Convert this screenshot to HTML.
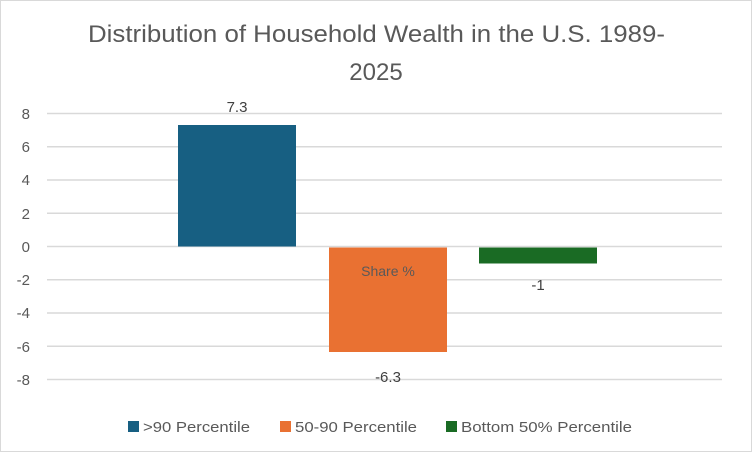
<!DOCTYPE html>
<html><head><style>
body{margin:0;background:#fff;}
svg{display:block;font-family:"Liberation Sans",sans-serif;}
</style></head><body>
<svg width="752" height="452" viewBox="0 0 752 452">
<rect x="0.5" y="0.5" width="751" height="451" fill="#fff" stroke="#d9d9d9"/>
<text x="88" y="42" font-size="24" fill="#595959" textLength="577" lengthAdjust="spacingAndGlyphs">Distribution of Household Wealth in the U.S. 1989-</text>
<text x="376" y="80" text-anchor="middle" font-size="24" fill="#595959">2025</text>
<g stroke="#d9d9d9" stroke-width="1.5">
<line x1="47" x2="722" y1="113.5" y2="113.5"/>
<line x1="47" x2="722" y1="146.7" y2="146.7"/>
<line x1="47" x2="722" y1="180" y2="180"/>
<line x1="47" x2="722" y1="213.2" y2="213.2"/>
<line x1="47" x2="722" y1="246.5" y2="246.5"/>
<line x1="47" x2="722" y1="279.7" y2="279.7"/>
<line x1="47" x2="722" y1="313" y2="313"/>
<line x1="47" x2="722" y1="346.2" y2="346.2"/>
<line x1="47" x2="722" y1="379.5" y2="379.5"/>
</g>
<g font-size="15" fill="#595959" text-anchor="end">
<text x="30" y="119">8</text>
<text x="30" y="152">6</text>
<text x="30" y="185">4</text>
<text x="30" y="219">2</text>
<text x="30" y="252">0</text>
<text x="30" y="285">-2</text>
<text x="30" y="318">-4</text>
<text x="30" y="352">-6</text>
<text x="30" y="385">-8</text>
</g>
<rect x="178" y="125" width="118" height="121.5" fill="#175f82"/>
<rect x="329" y="247.5" width="118" height="104.5" fill="#e97132"/>
<rect x="479" y="247.5" width="118" height="16" fill="#1a6b24"/>
<g font-size="15" fill="#404040" text-anchor="middle">
<text x="237" y="112">7.3</text>
<text x="388" y="382">-6.3</text>
<text x="538" y="290">-1</text>
</g>
<text x="388" y="276" text-anchor="middle" font-size="14" fill="#595959">Share %</text>
<g font-size="15" fill="#595959">
<rect x="128" y="421" width="11" height="11" fill="#175f82"/>
<text x="143" y="432" textLength="107" lengthAdjust="spacingAndGlyphs">&gt;90 Percentile</text>
<rect x="280" y="421" width="11" height="11" fill="#e97132"/>
<text x="295" y="432" textLength="122" lengthAdjust="spacingAndGlyphs">50-90 Percentile</text>
<rect x="446" y="421" width="11" height="11" fill="#1a6b24"/>
<text x="461" y="432" textLength="171" lengthAdjust="spacingAndGlyphs">Bottom 50% Percentile</text>
</g>
</svg>
</body></html>
